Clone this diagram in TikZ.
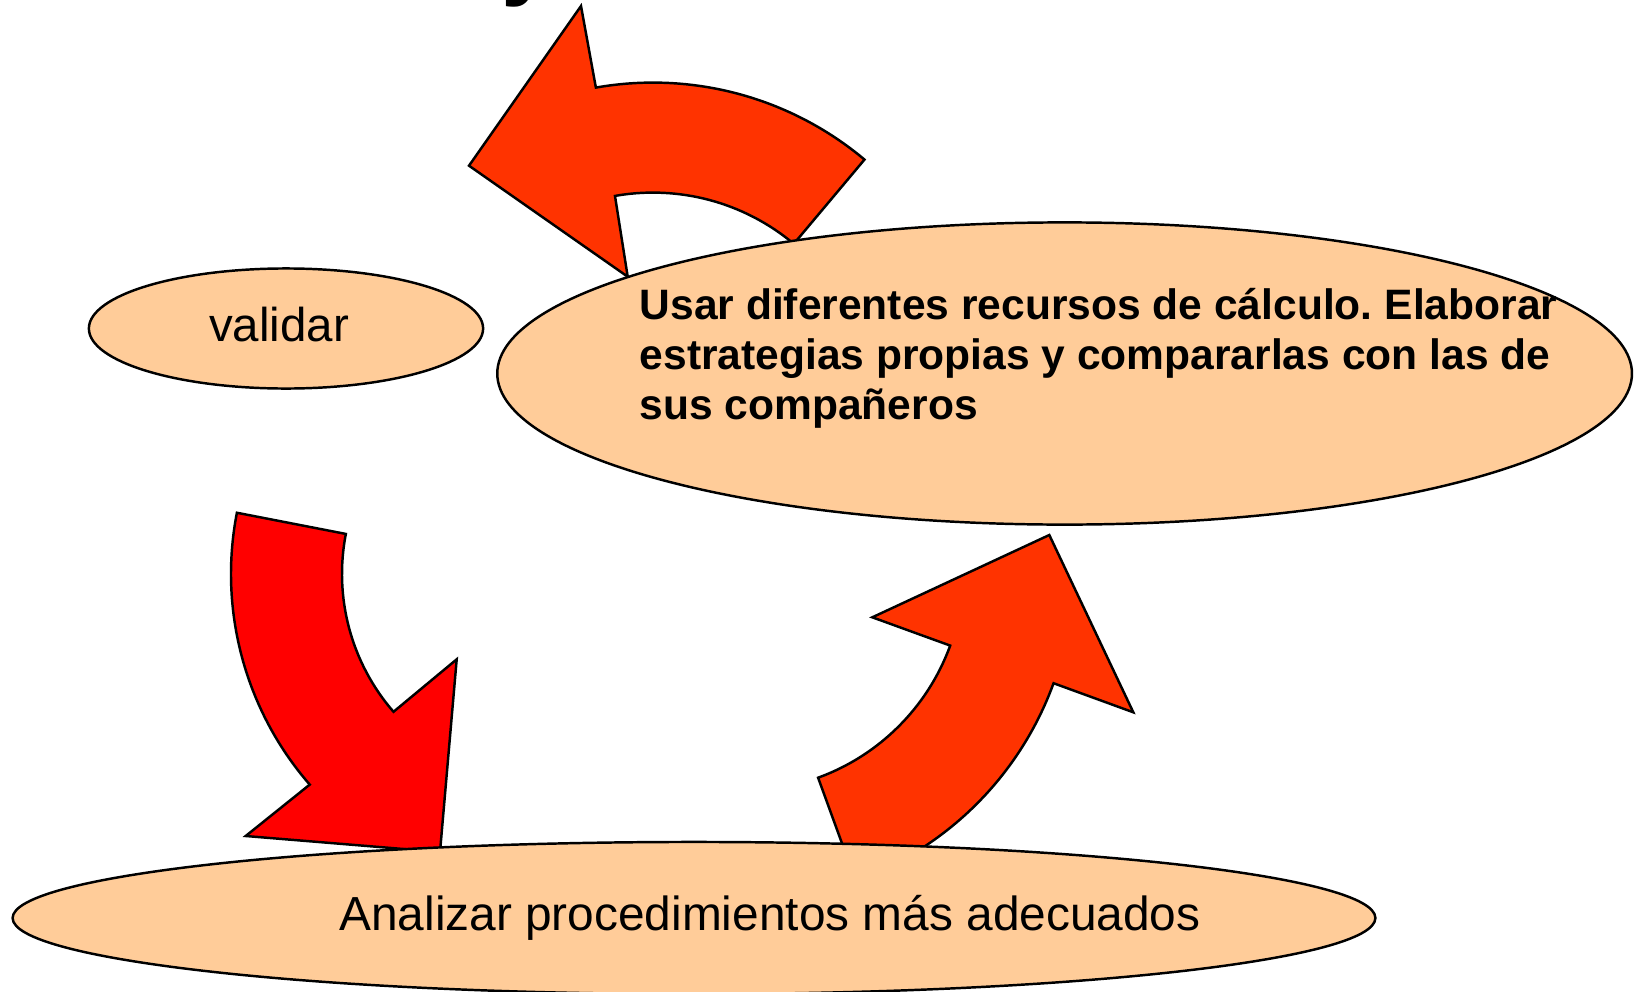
\documentclass[tikz,border=0pt]{standalone}
\usepackage{fontspec}
\setmainfont{Liberation Sans}
\usetikzlibrary{shapes.geometric}
\definecolor{peach}{HTML}{FFCC99}
\definecolor{flame}{HTML}{FF3300}
\definecolor{brightred}{HTML}{FF0000}
\frenchspacing

\begin{document}
\begin{tikzpicture}[x=0.01cm,y=0.01cm,
    bubble/.style={ellipse,draw=black,fill=peach,line width=0.7pt,inner sep=0pt},
    bentarrow/.style={draw=black,line width=0.7pt,line join=miter}]
			\clip (0,0) rectangle (1643,-991);
			% title, cut off at the top
			\node[anchor=base west,inner sep=0pt,font=\bfseries\fontsize{27}{32}\selectfont] (title) at (501,12) {y};
			% centres of the bent arrows
			\coordinate (topc) at (653,-411.6);
			\coordinate (leftc) at (552,-574);
			\coordinate (rightc) at (742.5,-570);
			% arrows
			\filldraw[bentarrow,fill=flame] ([shift={(100:329)}]topc) arc[start angle=100,end angle=50,radius=329]
				-- ([shift={(50:219)}]topc) arc[start angle=50,end angle=100,radius=219]
				-- (627.7,-276.7) -- (469,-165.7) -- (581,-6) -- cycle;
			\filldraw[bentarrow,fill=brightred] ([shift={(169:321)}]leftc) arc[start angle=169,end angle=221,radius=321]
				-- (245.7,-836) -- (440,-852) -- (456.7,-659.3)
				-- ([shift={(221:210)}]leftc) arc[start angle=221,end angle=169,radius=210] -- cycle;
			\filldraw[bentarrow,fill=flame] (1049.3,-535) -- (1133.3,-712.3)
				-- ([shift={(-20:331)}]rightc) arc[start angle=-20,end angle=-70,radius=331]
				-- ([shift={(-70:221)}]rightc) arc[start angle=-70,end angle=-20,radius=221]
				-- (872.3,-617.3) -- cycle;
			% ellipses
			\node[bubble,minimum width=3.94cm,minimum height=1.2cm] (validar) at (286,-328.5) {};
			\node[bubble,minimum width=11.34cm,minimum height=3.02cm] (usar) at (1064.6,-373.5) {};
			\node[bubble,minimum width=13.62cm,minimum height=1.52cm] (analizar) at (694,-918) {};
			% texts
			\node[anchor=base,inner sep=0pt,font=\fontsize{13.5}{16}\selectfont] (validartext) at (279,-341) {validar};
			\node[anchor=north west,align=left,inner sep=0pt,font=\bfseries\fontsize{12.1}{14.2}\selectfont] (usartext) at (639,-288)
				{Usar diferentes recursos de cálculo. Elaborar\\estrategias propias y compararlas con las de\\sus compañeros};
			\node[anchor=base,inner sep=0pt,font=\fontsize{13.6}{16}\selectfont] (analizartext) at (770,-930) {Analizar procedimientos más adecuados};
		\end{tikzpicture}
\end{document}
